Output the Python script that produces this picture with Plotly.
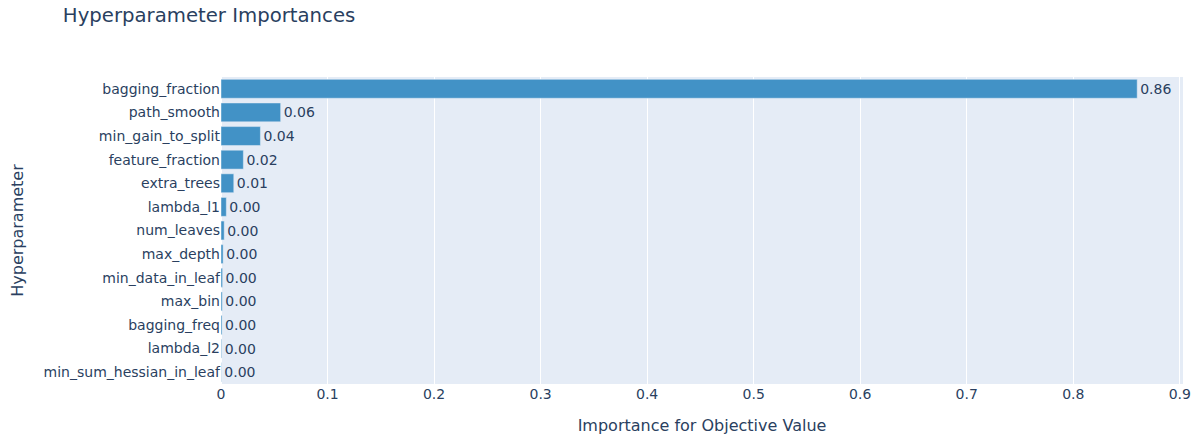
import plotly.graph_objects as go

# importance values, listed top to bottom as drawn
params = ['bagging_fraction', 'path_smooth', 'min_gain_to_split', 'feature_fraction',
          'extra_trees', 'lambda_l1', 'num_leaves', 'max_depth', 'min_data_in_leaf',
          'max_bin', 'bagging_freq', 'lambda_l2', 'min_sum_hessian_in_leaf']
importances = [0.860, 0.056, 0.037, 0.021, 0.012, 0.005, 0.003, 0.002, 0.0015,
               0.0012, 0.001, 0.0006, 0.0003]
labels = ['0.86', '0.06', '0.04', '0.02', '0.01', '0.00', '0.00', '0.00', '0.00',
          '0.00', '0.00', '0.00', '0.00']

# plotly draws horizontal bars bottom-up, so reverse
fig = go.Figure(go.Bar(
    x=importances[::-1],
    y=params[::-1],
    text=labels[::-1],
    textposition='outside',
    cliponaxis=False,
    orientation='h',
    marker_color='rgb(66,146,198)',
    hoverinfo='skip',
))

# page body adds an 8px margin, so size the figure to fit inside it
fig.update_layout(
    template='plotly',
    title=dict(text='Hyperparameter Importances', x=0.046, y=1.0, yanchor='top',
               pad=dict(t=0), font=dict(size=19.7)),
    font=dict(family='Verdana, DejaVu Sans', size=14, color='#2a3f5f'),
    width=1192, height=429,
    margin=dict(l=213, r=17, t=69, b=53),
    showlegend=False,
    bargap=0.2,
)
fig.update_xaxes(title=dict(text='Importance for Objective Value', standoff=18,
                            font_size=16),
                 automargin=False, range=[0, 0.903], dtick=0.1)
fig.update_yaxes(title=dict(text='Hyperparameter', standoff=29, font_size=16),
                 automargin=False)

fig.write_html('out.html')
